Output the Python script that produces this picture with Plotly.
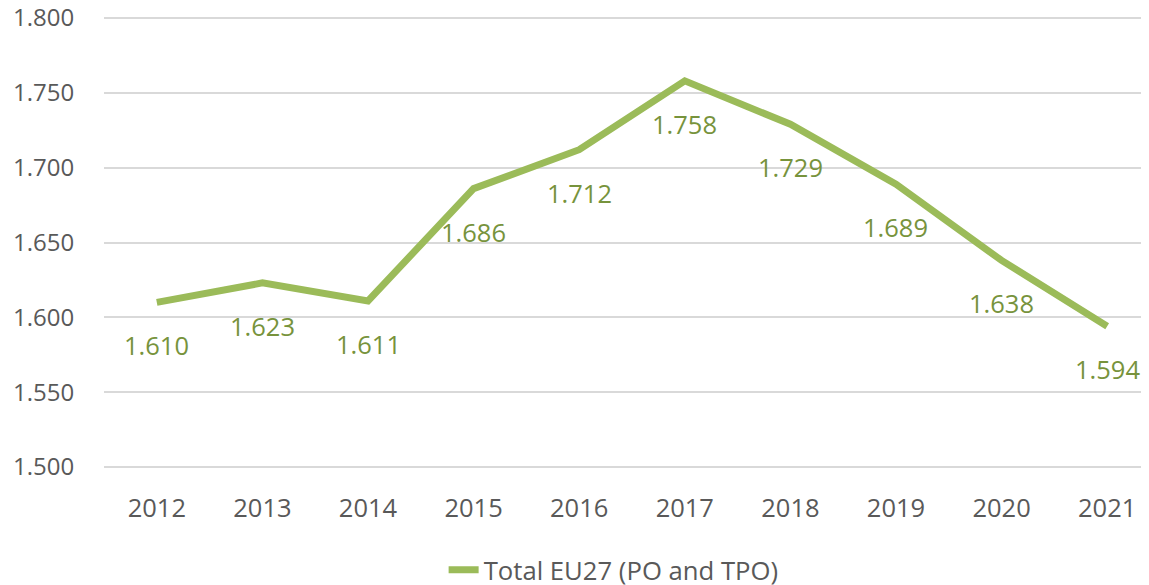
import plotly.graph_objects as go

years = ["2012", "2013", "2014", "2015", "2016", "2017", "2018", "2019", "2020", "2021"]
values = [1.610, 1.623, 1.611, 1.686, 1.712, 1.758, 1.729, 1.689, 1.638, 1.594]
labels = ["1.610", "1.623", "1.611", "1.686", "1.712", "1.758", "1.729", "1.689", "1.638", "1.594"]
series_name = "Total EU27 (PO and TPO)"

LINE = "#9BBB59"
LABEL = "#77933C"
GREY = "#595959"
FONT = "Open Sans"

fig = go.Figure()
fig.add_trace(go.Scatter(
    x=years, y=values, mode="lines", name=series_name,
    line=dict(color=LINE, width=7), showlegend=True,
))

for i, (v, t) in enumerate(zip(values, labels)):
    fig.add_annotation(x=i, y=v, xref="x", yref="y", text=t, showarrow=False, yshift=-43,
                       font=dict(family=FONT, size=25.5, color=LABEL))

fig.add_annotation(xref="paper", yref="paper", x=1.0, y=1.0, xanchor="left", yanchor="bottom",
                   xshift=-16, yshift=1, text="K", showarrow=False,
                   font=dict(family=FONT, size=26, color="#404040"))

fig.update_layout(
    width=1141, height=577,
    margin=dict(l=96, r=0, t=7, b=115, autoexpand=False),
    paper_bgcolor="white", plot_bgcolor="white",
    font=dict(family=FONT, size=24, color=GREY),
    showlegend=True,
    legend=dict(orientation="h", x=0.325, xanchor="left", y=-0.22, yanchor="middle",
                font=dict(family=FONT, size=25.7, color=GREY)),
    xaxis=dict(type="category", range=[-0.5, 9.396], showgrid=False, showline=False,
               ticks="outside", ticklen=15, tickcolor="rgba(0,0,0,0)",
               tickfont=dict(family=FONT, size=25.5, color=GREY)),
    yaxis=dict(range=[1.498, 1.802], dtick=0.05, tick0=1.5, tickformat=".3f",
               showgrid=True, gridcolor="#D9D9D9", gridwidth=2, zeroline=False, showline=False,
               ticks="outside", ticklen=24, tickcolor="rgba(0,0,0,0)",
               ticklabeloverflow="allow",
               tickfont=dict(family=FONT, size=24, color=GREY)),
)

fig.write_html("out.html")
